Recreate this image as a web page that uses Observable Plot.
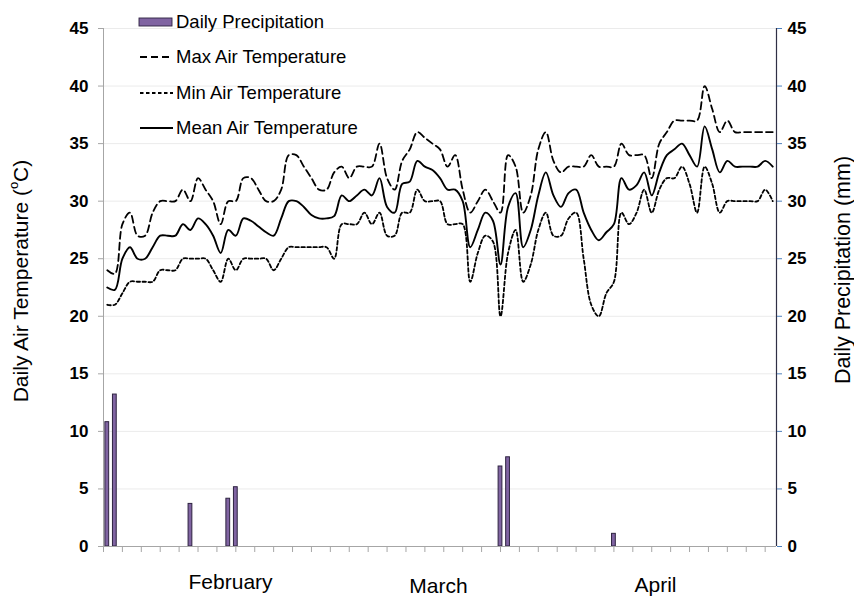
<!DOCTYPE html>
<html>
<head>
<meta charset="utf-8">
<script src="https://cdn.jsdelivr.net/npm/d3@7"></script>
<script src="https://cdn.jsdelivr.net/npm/@observablehq/plot@0.6"></script>
<style>
  body { margin: 0; background: #fff; font-family: "Liberation Sans", Arial, sans-serif; }
  #wrap { position: relative; width: 854px; height: 596px; }
  #legend { position: absolute; left: 138px; top: 4px; font-size: 18.5px; color: #000; }
  #legend .row { display: flex; align-items: center; height: 35.5px; }
  #legend svg { margin-right: 2px; }
</style>
</head>
<body>
<div id="wrap"><div id="legend"></div></div>
<script>
// Day index 0..88 (February to end of April)
const maxTemp = [24, 23.7, 28, 29, 27, 27, 29, 30, 30, 30, 31, 30, 32, 31, 30, 28, 30, 30, 32, 32,
  31, 30, 30, 31, 34, 34, 33, 32, 31, 31, 32.5, 33, 32, 33, 33, 33, 35, 32, 31, 33.5,
  34.5, 36, 35.5, 35, 34.5, 33, 34, 31, 29, 30, 31, 30, 29, 34, 33, 29, 30.5, 34.5, 36, 33.5,
  32.5, 33, 33, 33, 34, 33, 33, 33, 35, 34, 34, 34, 32, 35, 36, 37, 37, 37, 37, 40,
  38, 36, 37, 36, 36, 36, 36, 36, 36];
const minTemp = [21, 21, 22, 23, 23, 23, 23, 24, 24, 24, 25, 25, 25, 25, 24, 23, 25, 24, 25, 25,
  25, 25, 24, 25, 26, 26, 26, 26, 26, 26, 25, 28, 28, 28, 29, 28, 29, 27, 27, 29,
  29, 31, 30, 30, 30, 28, 28, 28, 23, 25.5, 27, 26.5, 20, 25.5, 27.5, 23, 24.5, 27.5, 29, 27,
  27, 28.5, 29, 25, 21, 20, 22, 23, 29, 28, 29, 31, 29, 31, 32, 32, 33, 31.5, 29, 33,
  31.5, 29, 30, 30, 30, 30, 30, 31, 30];
const meanTemp = [22.5, 22.3, 25, 26, 25, 25, 26, 27, 27, 27, 28, 27.5, 28.5, 28, 27, 25.5, 27.5, 27, 28.5, 28.3,
  27.8, 27.3, 27, 28.5, 30, 30, 29.5, 28.8, 28.5, 28.5, 28.7, 30.5, 30, 30.5, 31, 30.5, 32, 29.5, 29, 31.5,
  31.7, 33.5, 33, 32.7, 32, 31, 31, 30, 26, 27.5, 29, 28.3, 24.5, 29.5, 30.7, 26, 27.5, 30.5, 32.5, 30.5,
  29.5, 30.7, 31, 29, 27.5, 26.6, 27.3, 28, 32, 31, 31.4, 32.5, 30.5, 32.5, 34, 34.5, 35, 34, 33, 36.5,
  34.5, 32.5, 33.5, 33, 33, 33, 33, 33.5, 33];
const precipDays = [0, 1, 11, 16, 17, 52, 53, 67];
const precipMm = [10.8, 13.2, 3.7, 4.15, 5.15, 6.95, 7.75, 1.1];
const yTicks = [0, 5, 10, 15, 20, 25, 30, 35, 40, 45];
const xTicks = d3.range(-0.5, 88.5, 2.5);
const monthNames = ["February", "March", "April"];
const monthPos = [16.3, 43.8, 72.5];

const temps = maxTemp.map((v, i) => ({day: i, max: v, min: minTemp[i], mean: meanTemp[i]}));
const precip = precipDays.map((d, i) => ({day: d, mm: precipMm[i]}));
const months = monthNames.map((n, i) => ({name: n, day: monthPos[i]}));
const monthDy = [42, 46, 45];

const font = '"Liberation Sans", Arial, sans-serif';
const plot = Plot.plot({
  width: 854, height: 596,
  marginLeft: 103, marginRight: 78, marginTop: 28, marginBottom: 50,
  style: {fontFamily: font, background: "white", overflow: "visible", color: "#000"},
  x: {type: "linear", domain: [-0.5, 88.5]},
  y: {domain: [0, 45]},
  marks: [
    Plot.gridY(yTicks, {stroke: "#ebebeb", strokeOpacity: 1}),
    Plot.rectY(precip, {x1: d => d.day - 0.25, x2: d => d.day + 0.25, y: "mm", fill: "#8064a2", stroke: "#2e2340", strokeWidth: 1}),
    Plot.line(temps, {x: "day", y: "max", curve: "catmull-rom", stroke: "#000", strokeWidth: 1.8, strokeDasharray: "7,4"}),
    Plot.line(temps, {x: "day", y: "min", curve: "catmull-rom", stroke: "#000", strokeWidth: 1.8, strokeDasharray: "3.5,2.5"}),
    Plot.line(temps, {x: "day", y: "mean", curve: "catmull-rom", stroke: "#000", strokeWidth: 1.9}),
    Plot.ruleX([-0.5], {stroke: "#a6a6a6"}),
    Plot.ruleY([0], {stroke: "#a6a6a6"}),
    Plot.ruleX([88.5], {stroke: "#2f2f45", strokeWidth: 1.2}),
    Plot.axisX({ticks: xTicks, tickSize: 6, tickFormat: () => "", stroke: "#a6a6a6", label: null}),
    Plot.axisY({anchor: "left", ticks: yTicks, tickSize: 5, tickPadding: 10, fontSize: 17, fontWeight: "bold", stroke: "#a6a6a6", fill: "#000", label: null}),
    Plot.axisY({anchor: "right", ticks: yTicks, tickSize: 5, tickPadding: 6, fontSize: 17, fontWeight: "bold", stroke: "#4f81bd", fill: "#000", label: null}),
    ...months.map((m, i) => Plot.text([m], {x: "day", text: "name", frameAnchor: "bottom", dy: monthDy[i], fontSize: 21, fill: "#000"}))
  ]
});

const svg = d3.select(plot);
const lt = svg.append("text")
  .attr("transform", "translate(22,281) rotate(-90)")
  .attr("text-anchor", "middle").attr("dominant-baseline", "middle")
  .style("font-size", "21px").style("font-family", font).attr("fill", "#000");
lt.append("tspan").text("Daily Air Temperature (");
lt.append("tspan").attr("dy", -7).style("font-size", "13px").text("o");
lt.append("tspan").attr("dy", 7).text("C)");
svg.append("text")
  .attr("transform", "translate(844,270) rotate(-90)")
  .attr("text-anchor", "middle").attr("dominant-baseline", "middle")
  .style("font-size", "21.5px").style("font-family", font).attr("fill", "#000")
  .text("Daily Precipitation (mm)");

document.getElementById("wrap").prepend(plot);

// Legend
const legendItems = [
  {label: "Daily Precipitation", type: "bar"},
  {label: "Max Air Temperature", type: "line", dash: "7,4"},
  {label: "Min Air Temperature", type: "line", dash: "3.5,2.5"},
  {label: "Mean Air Temperature", type: "line", dash: null}
];
const legend = d3.select("#legend");
legendItems.forEach(it => {
  const row = legend.append("div").attr("class", "row");
  const s = row.append("svg").attr("width", 36).attr("height", 14);
  if (it.type === "bar") {
    s.append("rect").attr("x", 1).attr("y", 3).attr("width", 33).attr("height", 8)
      .attr("fill", "#8064a2").attr("stroke", "#2e2340").attr("stroke-width", 0.9);
  } else {
    const l = s.append("line").attr("x1", 2).attr("x2", 35).attr("y1", 7).attr("y2", 7)
      .attr("stroke", "#000").attr("stroke-width", 1.8);
    if (it.dash) l.attr("stroke-dasharray", it.dash);
  }
  row.append("span").text(it.label);
});
</script>
</body>
</html>
